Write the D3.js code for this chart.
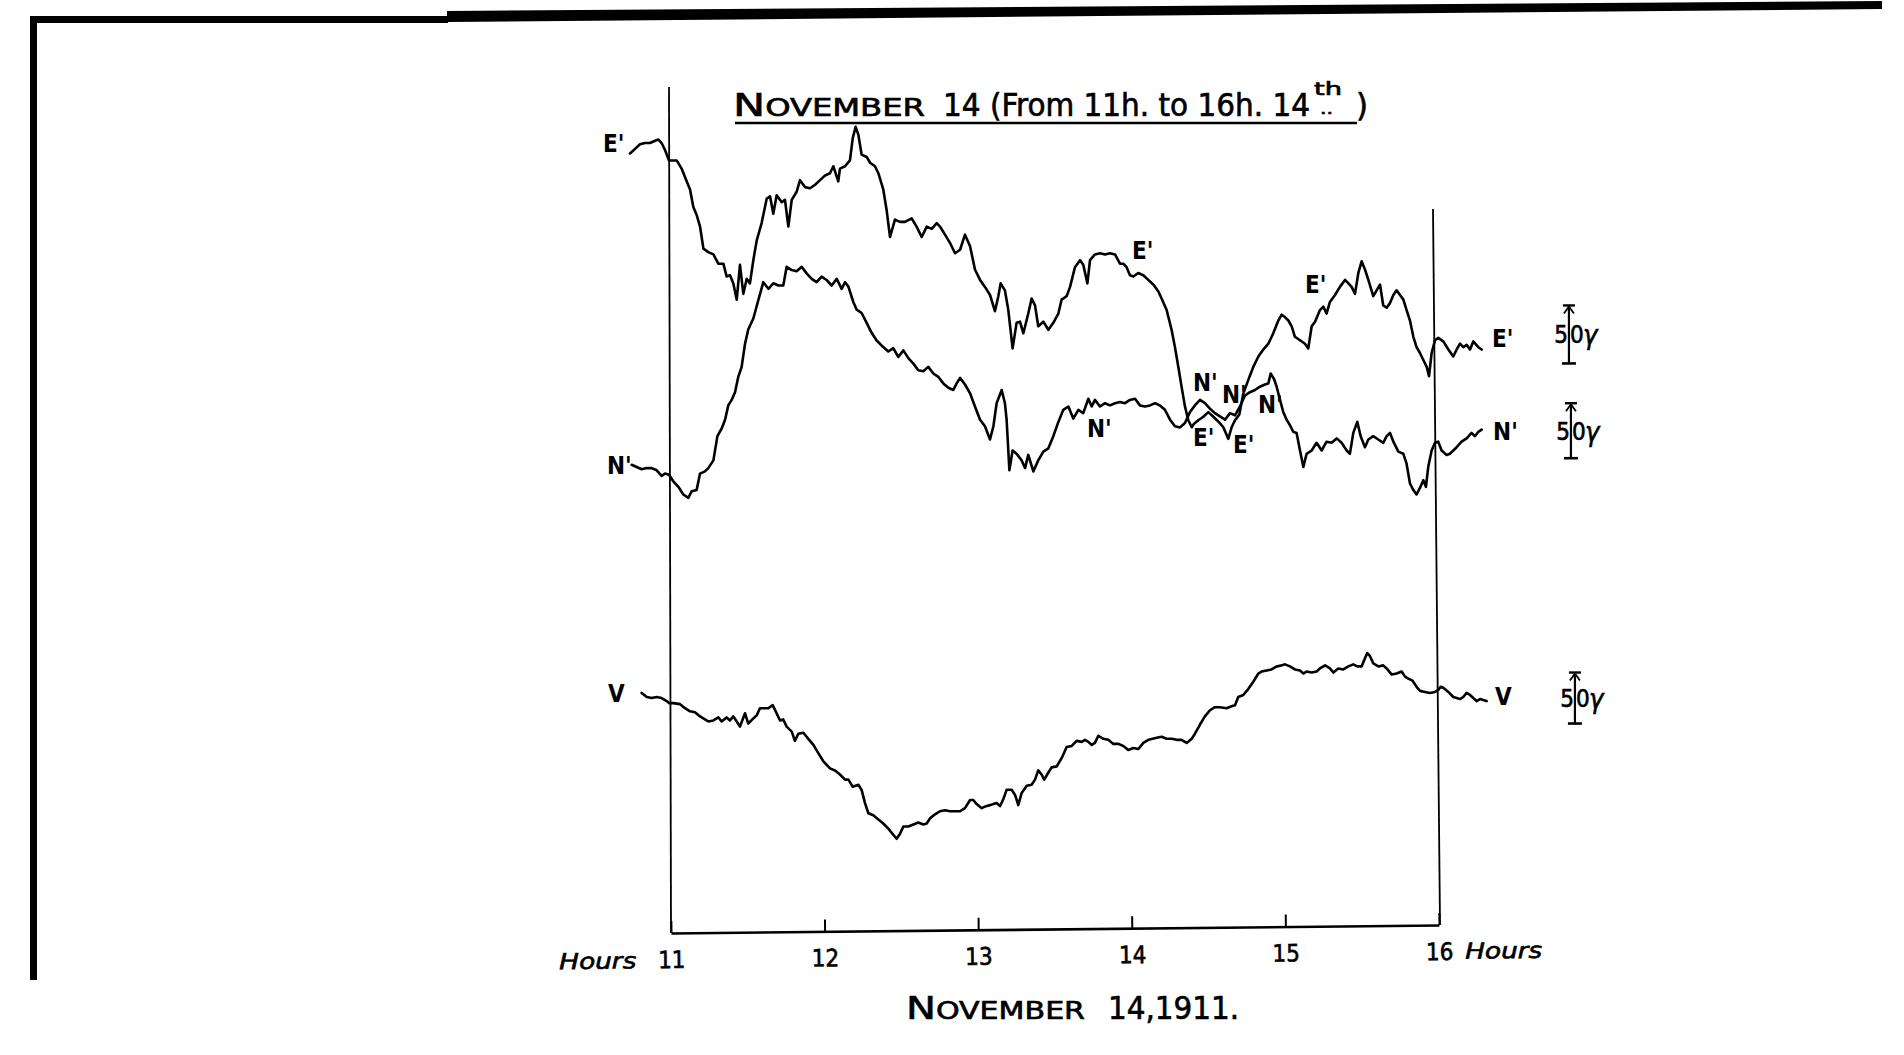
<!DOCTYPE html>
<html><head><meta charset="utf-8">
<script src="https://cdn.jsdelivr.net/npm/d3@7"></script>
<style>
html,body{margin:0;padding:0;background:#fff;}
svg{display:block;background:#fff;}
</style></head><body>
<svg id="c" width="1904" height="1055"></svg>
<script>
// ---- data (hour, deflection in gamma above an arbitrary zero) ----
const hourTicks = [11, 12, 13, 14, 15, 16];

const eastTrace = [[10.746,247],[10.779,251],[10.811,255],[10.844,256],[10.876,256],[10.909,258],[10.931,259],[10.952,256],[10.974,250],[11.000,241],[11.050,241],[11.082,234],[11.115,223],[11.137,216],[11.158,201],[11.180,194],[11.202,184],[11.224,165],[11.256,162],[11.289,160],[11.321,152],[11.354,152],[11.375,141],[11.397,142],[11.419,135],[11.441,121],[11.462,151],[11.484,126],[11.506,139],[11.527,135],[11.549,155],[11.571,172],[11.603,187],[11.636,208],[11.658,210],[11.679,195],[11.701,211],[11.734,205],[11.755,207],[11.777,184],[11.799,207],[11.831,214],[11.853,224],[11.885,218],[11.918,217],[11.951,220],[11.983,224],[12.016,228],[12.048,230],[12.070,236],[12.102,223],[12.113,234],[12.146,236],[12.178,241],[12.196,260],[12.215,270],[12.233,263],[12.254,246],[12.287,244],[12.309,239],[12.341,236],[12.363,230],[12.395,216],[12.417,198],[12.439,175],[12.471,190],[12.504,188],[12.536,188],[12.580,191],[12.612,184],[12.645,175],[12.678,184],[12.710,182],[12.743,187],[12.764,184],[12.797,177],[12.829,170],[12.862,161],[12.895,164],[12.927,177],[12.960,167],[12.992,147],[13.025,138],[13.057,132],[13.090,125],[13.122,111],[13.144,124],[13.159,135],[13.187,129],[13.209,112],[13.237,79],[13.263,101],[13.285,102],[13.307,92],[13.339,109],[13.361,122],[13.383,116],[13.404,98],[13.437,102],[13.470,95],[13.502,101],[13.535,109],[13.556,121],[13.589,124],[13.611,132],[13.643,149],[13.676,155],[13.697,151],[13.724,135],[13.741,155],[13.773,160],[13.806,161],[13.839,160],[13.871,161],[13.904,160],[13.936,152],[13.958,152],[13.979,149],[14.001,142],[14.023,141],[14.055,144],[14.088,142],[14.120,138],[14.153,134],[14.186,128],[14.207,122],[14.240,112],[14.272,95],[14.294,80],[14.316,63],[14.337,46],[14.359,29],[14.381,17],[14.403,11],[14.418,14],[14.446,17],[14.479,20],[14.511,24],[14.544,20],[14.576,16],[14.609,11],[14.641,1],[14.663,11],[14.685,17],[14.713,22],[14.739,40],[14.772,52],[14.804,63],[14.826,69],[14.837,72],[14.869,78],[14.902,83],[14.934,92],[14.967,103],[14.989,108],[15.010,106],[15.032,103],[15.054,98],[15.075,89],[15.108,86],[15.140,83],[15.162,79],[15.184,98],[15.206,102],[15.238,112],[15.260,115],[15.281,109],[15.303,119],[15.336,125],[15.368,132],[15.401,138],[15.423,135],[15.444,132],[15.466,126],[15.488,144],[15.509,154],[15.531,147],[15.553,138],[15.585,124],[15.607,129],[15.629,134],[15.650,116],[15.672,114],[15.694,118],[15.716,125],[15.737,129],[15.759,125],[15.781,121],[15.802,112],[15.824,103],[15.846,89],[15.867,80],[15.889,75],[15.911,69],[15.933,63],[15.948,55],[15.965,75],[15.987,86],[16.008,88],[16.041,85],[16.074,78],[16.106,72],[16.128,78],[16.150,83],[16.171,80],[16.193,82],[16.215,78],[16.236,85],[16.269,80],[16.291,78]];

const northTrace = [[10.757,32],[10.789,30],[10.822,28],[10.855,29],[10.887,29],[10.920,27],[10.952,22],[10.974,24],[11.000,23],[11.028,17],[11.061,12],[11.093,5],[11.126,2],[11.148,8],[11.180,9],[11.202,24],[11.234,26],[11.256,29],[11.289,36],[11.315,58],[11.343,65],[11.365,73],[11.386,86],[11.408,91],[11.430,98],[11.451,112],[11.473,121],[11.495,142],[11.516,155],[11.549,165],[11.582,182],[11.614,198],[11.647,192],[11.679,197],[11.712,195],[11.744,195],[11.766,212],[11.799,209],[11.831,208],[11.864,212],[11.896,206],[11.929,201],[11.961,198],[11.994,203],[12.026,200],[12.059,195],[12.092,201],[12.124,192],[12.146,198],[12.168,194],[12.200,180],[12.222,173],[12.254,170],[12.287,161],[12.319,152],[12.352,145],[12.395,139],[12.428,135],[12.460,138],[12.493,130],[12.526,136],[12.558,129],[12.591,124],[12.623,118],[12.656,117],[12.688,121],[12.721,115],[12.753,112],[12.786,106],[12.819,102],[12.851,100],[12.873,106],[12.895,111],[12.927,105],[12.960,97],[12.992,85],[13.025,73],[13.057,67],[13.090,55],[13.112,67],[13.133,88],[13.166,100],[13.187,88],[13.198,73],[13.216,27],[13.237,45],[13.263,42],[13.296,36],[13.318,29],[13.339,41],[13.372,26],[13.404,36],[13.437,44],[13.470,47],[13.502,58],[13.535,71],[13.567,82],[13.600,85],[13.632,74],[13.665,82],[13.697,79],[13.730,92],[13.752,85],[13.773,91],[13.806,85],[13.839,88],[13.871,86],[13.904,88],[13.936,89],[13.969,88],[14.001,91],[14.034,92],[14.066,86],[14.099,85],[14.131,86],[14.164,88],[14.196,86],[14.229,82],[14.262,73],[14.294,67],[14.327,66],[14.359,70],[14.392,80],[14.424,86],[14.457,91],[14.489,88],[14.522,83],[14.554,79],[14.587,76],[14.620,73],[14.652,79],[14.685,77],[14.717,85],[14.750,95],[14.782,98],[14.815,100],[14.847,103],[14.880,105],[14.902,106],[14.917,115],[14.939,110],[14.956,103],[14.978,91],[14.999,80],[15.021,73],[15.043,68],[15.064,62],[15.086,61],[15.108,45],[15.130,30],[15.151,42],[15.184,45],[15.216,52],[15.249,45],[15.281,53],[15.314,52],[15.347,56],[15.379,52],[15.412,45],[15.433,42],[15.455,61],[15.481,71],[15.503,58],[15.531,48],[15.553,55],[15.585,58],[15.618,55],[15.650,52],[15.672,58],[15.694,61],[15.716,53],[15.748,44],[15.781,42],[15.802,33],[15.824,15],[15.846,9],[15.867,5],[15.889,11],[15.911,18],[15.928,12],[15.943,30],[15.965,45],[15.987,52],[16.008,53],[16.030,45],[16.063,41],[16.084,42],[16.106,45],[16.128,48],[16.160,53],[16.193,56],[16.225,61],[16.247,58],[16.269,62],[16.291,64]];

const vertTrace = [[10.822,154],[10.855,150],[10.887,149],[10.920,150],[10.952,149],[10.985,146],[11.000,144],[11.028,144],[11.072,143],[11.104,139],[11.137,136],[11.169,135],[11.202,131],[11.234,128],[11.256,126],[11.289,127],[11.321,130],[11.343,126],[11.375,130],[11.397,127],[11.419,131],[11.441,126],[11.462,121],[11.495,134],[11.516,124],[11.549,129],[11.571,132],[11.592,139],[11.625,139],[11.647,139],[11.675,142],[11.701,134],[11.723,127],[11.744,128],[11.766,121],[11.799,116],[11.820,107],[11.842,114],[11.875,115],[11.907,109],[11.940,103],[11.972,95],[12.005,87],[12.048,80],[12.081,78],[12.113,74],[12.146,69],[12.168,69],[12.196,62],[12.233,64],[12.254,59],[12.276,46],[12.298,36],[12.330,34],[12.363,30],[12.395,26],[12.428,21],[12.460,15],[12.482,11],[12.504,16],[12.526,23],[12.558,23],[12.591,25],[12.623,27],[12.656,25],[12.678,26],[12.699,31],[12.732,35],[12.764,38],[12.797,39],[12.829,38],[12.862,38],[12.895,38],[12.927,41],[12.960,49],[12.981,49],[13.003,45],[13.036,41],[13.064,43],[13.090,44],[13.112,45],[13.133,46],[13.155,43],[13.177,50],[13.198,59],[13.231,59],[13.253,54],[13.274,44],[13.296,56],[13.329,63],[13.361,64],[13.383,69],[13.404,78],[13.426,74],[13.443,69],[13.470,76],[13.491,81],[13.524,82],[13.556,90],[13.589,101],[13.622,102],[13.654,107],[13.687,106],[13.708,108],[13.730,106],[13.752,103],[13.773,105],[13.795,112],[13.828,109],[13.860,108],[13.893,104],[13.926,104],[13.958,102],[13.990,98],[14.023,100],[14.056,99],[14.088,105],[14.121,108],[14.175,110],[14.207,111],[14.240,109],[14.272,109],[14.305,108],[14.337,108],[14.370,105],[14.403,109],[14.424,114],[14.457,123],[14.489,131],[14.522,137],[14.554,140],[14.587,140],[14.630,139],[14.663,141],[14.685,142],[14.706,150],[14.739,152],[14.772,158],[14.804,165],[14.837,173],[14.858,175],[14.891,176],[14.923,177],[14.956,180],[14.989,181],[15.010,182],[15.043,180],[15.075,177],[15.108,176],[15.130,173],[15.151,175],[15.184,174],[15.216,175],[15.238,178],[15.271,181],[15.303,178],[15.325,174],[15.357,178],[15.390,177],[15.423,180],[15.455,182],[15.481,180],[15.509,180],[15.531,188],[15.546,193],[15.564,190],[15.585,183],[15.618,180],[15.650,181],[15.672,178],[15.705,172],[15.737,173],[15.770,175],[15.792,170],[15.813,168],[15.841,166],[15.867,160],[15.889,156],[15.922,155],[15.954,154],[15.987,155],[16.008,157],[16.024,160],[16.041,159],[16.074,155],[16.106,150],[16.150,148],[16.171,150],[16.193,154],[16.215,152],[16.236,149],[16.258,146],[16.280,148],[16.301,147],[16.323,146]];

// labels attached to the traces (hour, gamma on that trace's scale)
const traceLabels = [
  {s:"E", text:"E'", t:10.570, v:248}, {s:"N", text:"N'", t:10.596, v:24}, {s:"V", text:"V", t:10.603, v:145},
  {s:"E", text:"E'", t:16.358, v:80},  {s:"N", text:"N'", t:16.365, v:55}, {s:"V", text:"V", t:16.378, v:142},
  {s:"E", text:"E'", t:14.014, v:156}, {s:"E", text:"E'", t:15.141, v:127},
  {s:"N", text:"N'", t:13.721, v:57},  {s:"N", text:"N'", t:14.411, v:99},
  {s:"N", text:"N'", t:14.600, v:88},  {s:"N", text:"N'", t:14.835, v:79},
  {s:"E", text:"E'", t:14.411, v:-5},  {s:"E", text:"E'", t:14.672, v:-11}
];
// 50 gamma scale bars
const scaleBars = [{s:"E", t:16.859, from:66, span:50}, {s:"N", t:16.872, from:38, span:50}, {s:"V", t:16.898, from:124, span:50}];

// ---- drawing ----
const CF = "'DejaVu Sans Condensed','DejaVu Sans',sans-serif";
const svg = d3.select("#c");
const x = d3.scaleLinear().domain([11, 16]).range([669, 1437]);
const y = {
  E: d3.scaleLinear().domain([0, 100]).range([440, 324]),
  N: d3.scaleLinear().domain([0, 100]).range([500, 390]),
  V: d3.scaleLinear().domain([0, 100]).range([850, 748])
};
const ink = sel => sel.attr("fill", "#000").attr("stroke", "#000").attr("stroke-width", 0.6);

// plate border (thick black edges of the scanned page)
svg.append("rect").attr("x", 30).attr("y", 16).attr("width", 7).attr("height", 964).attr("fill", "#000");
svg.append("rect").attr("x", 30).attr("y", 16).attr("width", 418).attr("height", 7).attr("fill", "#000");
svg.append("path").attr("d", "M447,11 L1882,1 L1882,9 L447,22 Z").attr("fill", "#000");

// frame lines
svg.append("line").attr("x1", x(11)).attr("y1", 87).attr("x2", x(11) + 2).attr("y2", 933)
  .attr("stroke", "#000").attr("stroke-width", 1.8);
svg.append("line").attr("x1", x(16) - 4).attr("y1", 209).attr("x2", x(16) + 3).attr("y2", 925)
  .attr("stroke", "#000").attr("stroke-width", 1.8);

// time axis (slightly tilted like the plate)
const ax = svg.append("g").attr("transform", "translate(2,933) rotate(-0.6,669,0)");
ax.call(d3.axisBottom(x).tickValues(hourTicks).tickSizeInner(-12).tickSizeOuter(0).tickPadding(18).tickFormat(d3.format("d")));
ax.select(".domain").attr("stroke", "#000").attr("stroke-width", 2.6);
ax.selectAll(".tick line").attr("stroke", "#000").attr("stroke-width", 2);
ink(ax.selectAll(".tick text").attr("font-family", CF).attr("font-size", 24));
ink(ax.append("text").text("Hours").attr("x", x(11) - 35).attr("y", 35).attr("text-anchor", "end")
  .attr("font-family", CF).attr("font-style", "italic").attr("font-size", 22)
  .attr("textLength", 77).attr("lengthAdjust", "spacingAndGlyphs"));
ink(ax.append("text").text("Hours").attr("x", x(16) + 26).attr("y", 34).attr("text-anchor", "start")
  .attr("font-family", CF).attr("font-style", "italic").attr("font-size", 22)
  .attr("textLength", 77).attr("lengthAdjust", "spacingAndGlyphs"));

// traces
const mk = s => d3.line().x(d => x(d[0])).y(d => y[s](d[1]));
[["E", eastTrace], ["N", northTrace], ["V", vertTrace]].forEach(([s, data]) => {
  svg.append("path").datum(data).attr("d", mk(s)).attr("fill", "none")
    .attr("stroke", "#000").attr("stroke-width", 2.6).attr("stroke-linejoin", "round").attr("stroke-linecap", "round");
});

// trace labels
svg.selectAll("text.lab").data(traceLabels).join("text").attr("class", "lab")
  .attr("x", d => x(d.t)).attr("y", d => y[d.s](d.v)).text(d => d.text)
  .attr("font-family", CF).attr("font-weight", "bold").attr("font-size", 24).attr("fill", "#000");

// scale bars
scaleBars.forEach(b => {
  const bx = x(b.t), y0 = y[b.s](b.from), y1 = y[b.s](b.from + b.span);
  const g = svg.append("g").attr("stroke", "#000").attr("fill", "none");
  g.append("line").attr("x1", bx).attr("x2", bx).attr("y1", y1).attr("y2", y0).attr("stroke-width", 2.2);
  g.append("line").attr("x1", bx - 6).attr("x2", bx + 6).attr("y1", y1).attr("y2", y1).attr("stroke-width", 2.4);
  g.append("path").attr("d", `M${bx - 5},${y1 + 8} L${bx},${y1 + 1} L${bx + 5},${y1 + 8}`).attr("stroke-width", 1.8);
  g.append("line").attr("x1", bx - 7).attr("x2", bx + 7).attr("y1", y0).attr("y2", y0).attr("stroke-width", 2.6);
  const ym = (y0 + y1) / 2 + 9;
  ink(svg.append("text").text("5").attr("x", bx - 1).attr("y", ym).attr("text-anchor", "end")
    .attr("font-family", CF).attr("font-size", 24));
  ink(svg.append("text").text("0").attr("x", bx + 1).attr("y", ym)
    .attr("font-family", CF).attr("font-size", 24));
  ink(svg.append("text").text("γ").attr("x", bx + 14).attr("y", ym + 1)
    .attr("font-family", CF).attr("font-style", "italic").attr("font-size", 27));
});

// titles (pieces fitted to the widths they occupy on the plate)
const T = (str, px, py, size, len) => {
  const t = svg.append("text").attr("x", px).attr("y", py).attr("font-family", CF).text(str).attr("font-size", size);
  if (len) t.attr("textLength", len).attr("lengthAdjust", "spacingAndGlyphs");
  return ink(t);
};
const sc1 = ink(svg.append("text").attr("x", 733).attr("y", 116).attr("font-family", CF)
  .attr("textLength", 192).attr("lengthAdjust", "spacingAndGlyphs"));
sc1.append("tspan").text("N").attr("font-size", 32);
sc1.append("tspan").text("OVEMBER").attr("font-size", 24);
T("14 (From 11h. to 16h. 14", 943, 116, 32, 367);
T("th", 1314, 95, 18, 28);
T("..", 1320, 114, 16, 13);
T(")", 1356, 116, 32, 12);
svg.append("line").attr("x1", 735).attr("x2", 1357).attr("y1", 123).attr("y2", 123)
  .attr("stroke", "#000").attr("stroke-width", 2.5);

const sc2 = ink(svg.append("text").attr("x", 906).attr("y", 1019).attr("font-family", CF)
  .attr("textLength", 179).attr("lengthAdjust", "spacingAndGlyphs"));
sc2.append("tspan").text("N").attr("font-size", 32);
sc2.append("tspan").text("OVEMBER").attr("font-size", 24);
T("14,1911.", 1108, 1019, 32, 131);
</script></body></html>
